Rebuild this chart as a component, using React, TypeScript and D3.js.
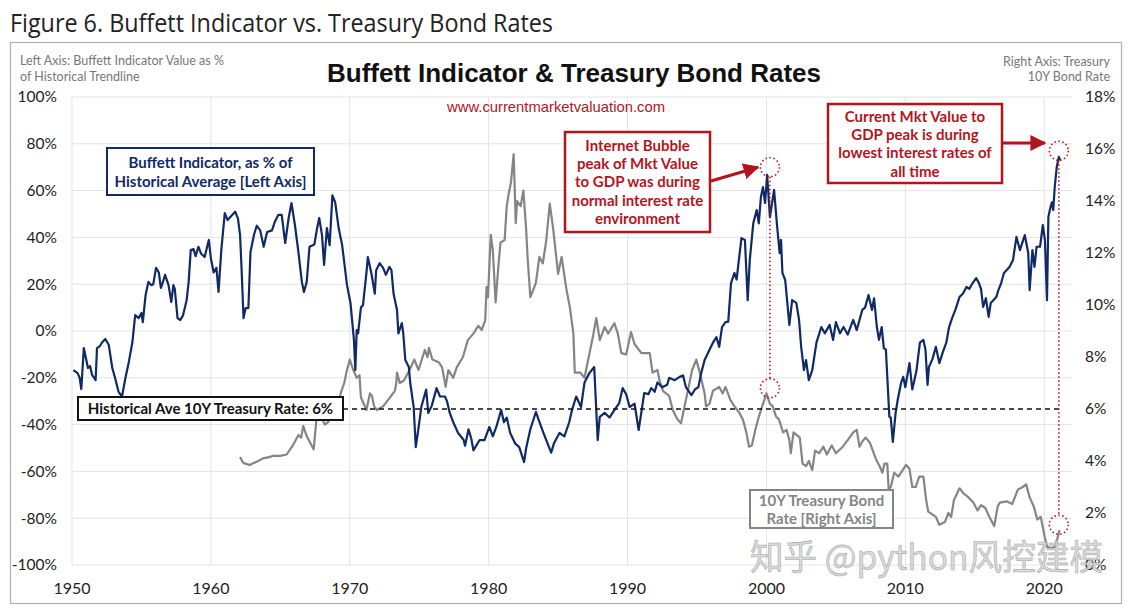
import React from 'react';
import * as d3 from 'd3';

// Buffett Indicator (% of historical trendline): decimal years and values
const buffettYears = [
  1950.1, 1950.4, 1950.55, 1950.67, 1950.85, 1951.0, 1951.15, 1951.3, 1951.45, 1951.7, 1951.8, 1952.0, 1952.15,
  1952.4, 1952.65, 1952.9, 1953.1, 1953.35, 1953.6, 1953.85, 1954.1, 1954.35, 1954.55, 1954.8, 1955.0, 1955.1,
  1955.3, 1955.5, 1955.7, 1955.85, 1956.05, 1956.25, 1956.4, 1956.5, 1956.7, 1956.95, 1957.15, 1957.3, 1957.4,
  1957.6, 1957.8, 1958.0, 1958.25, 1958.4, 1958.55, 1958.75, 1958.9, 1959.1, 1959.3, 1959.55, 1959.85, 1960.0,
  1960.2, 1960.4, 1960.55, 1960.75, 1961.0, 1961.2, 1961.45, 1961.75, 1961.95, 1962.1, 1962.2, 1962.35, 1962.5,
  1962.7, 1962.85, 1963.1, 1963.3, 1963.55, 1963.8, 1964.05, 1964.4, 1964.6, 1964.85, 1965.1, 1965.35, 1965.6,
  1965.8, 1966.05, 1966.3, 1966.55, 1966.7, 1966.9, 1967.1, 1967.45, 1967.65, 1967.8, 1968.0, 1968.15, 1968.35,
  1968.55, 1968.75, 1968.95, 1969.2, 1969.45, 1969.65, 1969.8, 1970.05, 1970.3, 1970.4, 1970.5, 1970.6, 1970.8,
  1970.95, 1971.2, 1971.3, 1971.55, 1971.8, 1971.9, 1972.15, 1972.4, 1972.6, 1972.85, 1973.0, 1973.15, 1973.4,
  1973.5, 1973.75, 1973.85, 1974.0, 1974.25, 1974.35, 1974.6, 1974.75, 1974.9, 1975.15, 1975.5, 1975.65, 1975.9,
  1976.25, 1976.5, 1976.85, 1977.0, 1977.2, 1977.45, 1977.8, 1978.2, 1978.3, 1978.55, 1978.75, 1978.9, 1979.35,
  1979.7, 1980.05, 1980.3, 1980.55, 1980.9, 1981.1, 1981.3, 1981.55, 1981.9, 1982.2, 1982.55, 1982.7, 1983.0,
  1983.4, 1983.6, 1983.95, 1984.5, 1984.7, 1985.1, 1985.45, 1985.8, 1986.0, 1986.3, 1986.65, 1986.9, 1987.25,
  1987.6, 1987.85, 1988.0, 1988.35, 1988.7, 1989.05, 1989.4, 1989.65, 1989.9, 1990.15, 1990.5, 1990.8, 1991.05,
  1991.2, 1991.5, 1991.7, 1991.95, 1992.15, 1992.5, 1992.85, 1993.0, 1993.4, 1993.75, 1994.0, 1994.2, 1994.6,
  1994.85, 1995.1, 1995.3, 1995.55, 1995.9, 1996.15, 1996.4, 1996.6, 1996.8, 1997.05, 1997.25, 1997.45, 1997.7,
  1997.85, 1998.2, 1998.45, 1998.65, 1998.8, 1999.05, 1999.3, 1999.45, 1999.6, 1999.75, 1999.9, 2000.05, 2000.25,
  2000.55, 2000.75, 2000.95, 2001.05, 2001.15, 2001.35, 2001.65, 2001.85, 2002.15, 2002.35, 2002.5, 2002.7, 2002.85,
  2003.05, 2003.3, 2003.6, 2003.95, 2004.2, 2004.55, 2004.8, 2005.0, 2005.3, 2005.55, 2005.85, 2006.05, 2006.25,
  2006.5, 2006.7, 2006.9, 2007.1, 2007.35, 2007.6, 2007.75, 2007.95, 2008.1, 2008.3, 2008.45, 2008.6, 2008.85,
  2008.95, 2009.1, 2009.3, 2009.45, 2009.7, 2009.85, 2010.0, 2010.3, 2010.5, 2010.65, 2010.8, 2011.05, 2011.3,
  2011.45, 2011.6, 2011.7, 2011.95, 2012.2, 2012.45, 2012.7, 2012.95, 2013.15, 2013.4, 2013.6, 2013.9, 2014.15,
  2014.4, 2014.6, 2014.85, 2015.1, 2015.3, 2015.45, 2015.6, 2015.8, 2016.0, 2016.15, 2016.55, 2016.7, 2016.9,
  2017.1, 2017.5, 2017.75, 2018.0, 2018.25, 2018.6, 2018.85, 2018.95, 2019.15, 2019.3, 2019.45, 2019.7, 2019.9,
  2020.05, 2020.2, 2020.3, 2020.45, 2020.55, 2020.65, 2020.75, 2020.9, 2021.05, 2021.15,
];
const buffettValues = [
  -16.7, -18, -20, -24.8, -7.3, -11.5, -15.8, -15, -18.8, -21, -7.3, -6.5, -5,
  -3.4, -6, -15.8, -20, -26, -28, -20, -13, -4.7, 6.8, 5.5, 7.7, 3.8,
  15.4, 21, 19.6, 20, 27, 25, 18.4, 20, 24, 19.6, 12.4, 19.6, 18,
  5.5, 4.7, 6.8, 13, 21, 34.6, 35, 32, 36, 33, 31.6, 38.9, 31,
  25, 27, 16.7, 34.6, 50.4, 47.4, 49, 51, 48, 41, 28, 5.5, 9.8,
  9.8, 33.8, 41, 45, 43, 36, 42.3, 43, 46.6, 49.6, 49.6, 37.6, 48.3,
  54.7, 45.3, 33.8, 21, 16.7, 21, 36, 37, 44, 48.3, 41, 28.2, 44,
  36.7, 58, 55, 44, 36.7, 27, 19.6, 12, -3.8, -16.7, 0.4, -1, 10,
  11, 24.8, 31.6, 24.8, 16, 26, 29, 27, 24, 27.4, 26, 16, 9,
  -1, 3.4, -1, -12.4, -15.4, -22, -32.5, -49.6, -43.6, -32.5, -25, -35, -32,
  -24.4, -28, -28, -30, -35, -39, -43.6, -46.6, -49, -42, -46, -51, -46.6,
  -46.6, -41, -45, -41, -33.8, -39, -37, -43.6, -48, -49.6, -56, -50, -42,
  -34.6, -38, -43.6, -52, -48, -43.6, -45, -39, -33.8, -28, -32.5, -22, -18,
  -15.4, -46.6, -36.7, -35, -37, -33.8, -30.8, -24.4, -27, -32.5, -31, -42.3, -32.5,
  -26.5, -27, -24.4, -26, -22, -24, -23, -20, -21, -19.6, -19, -24, -27.4,
  -25, -24, -18, -12.4, -8, -5, -2.6, -6.8, 1.7, 3.8, 4, 20.5, 24.8,
  22, 39.7, 38.9, 13.2, 30.3, 46, 51.7, 46, 57.2, 61.5, 54.7, 66.7, 48.7,
  60.3, 46, 33.3, 38.9, 24.8, 21.8, 2.6, 13.2, 12, 4.7, -6.8, -16.7, -12.4,
  -21, -16.7, -5, 1.7, -1, 2.6, -3.8, 3.8, -1, 1.7, -1.5, 1.7, 4.7,
  0.4, 4.7, 9, 10, 15.4, 9, 14, 1.7, -3.8, 1.7, -7.3, -8, -36.7,
  -37, -47.4, -35, -29.5, -22, -19.6, -24, -13.7, -25, -21, -17, -5, -3.8,
  -8, -23, -15.4, -12, -6.8, -13.7, -9, -5, 1.7, 6, 9, 14.5, 16,
  18.8, 18, 20.5, 22.6, 20.5, 18, 10.3, 14, 6, 12, 14.5, 17.5, 20.5,
  24.8, 27.4, 30.3, 40.2, 34.6, 41, 33.3, 17.5, 34.6, 27.4, 36, 36, 45.3,
  38.9, 13.2, 48.7, 53, 55, 51.7, 61, 70, 74.4, 73,
];

// 10Y Treasury rate (%): decimal years and values
const bondYears = [
  1962.1, 1962.3, 1962.45, 1962.8, 1963.0, 1963.4, 1963.75, 1964.2, 1964.5, 1965.0, 1965.45, 1965.9, 1966.1,
  1966.3, 1966.5, 1966.65, 1966.9, 1967.25, 1967.4, 1967.6, 1967.95, 1968.2, 1968.45, 1968.7, 1969.0, 1969.2,
  1969.4, 1969.6, 1969.8, 1970.0, 1970.25, 1970.5, 1970.7, 1970.8, 1971.2, 1971.45, 1971.6, 1971.75, 1971.95,
  1972.4, 1972.9, 1973.25, 1973.35, 1973.4, 1973.6, 1973.9, 1974.3, 1974.65, 1974.95, 1975.4, 1975.6, 1975.7,
  1975.95, 1976.4, 1976.65, 1976.9, 1977.1, 1977.45, 1977.7, 1978.15, 1978.5, 1978.9, 1979.25, 1979.5, 1979.75,
  1979.85, 1979.95, 1980.15, 1980.3, 1980.5, 1980.7, 1980.85, 1981.15, 1981.3, 1981.45, 1981.6, 1981.8, 1981.95,
  1982.05, 1982.3, 1982.5, 1982.7, 1982.8, 1983.0, 1983.15, 1983.4, 1983.65, 1983.9, 1984.15, 1984.4, 1984.65,
  1985.0, 1985.25, 1985.6, 1985.85, 1986.1, 1986.2, 1986.6, 1986.9, 1987.5, 1987.75, 1988.0, 1988.35, 1988.6,
  1989.05, 1989.3, 1989.55, 1989.9, 1990.25, 1990.5, 1991.0, 1991.6, 1991.8, 1992.15, 1992.3, 1992.55, 1993.0,
  1993.25, 1993.6, 1993.85, 1994.05, 1994.3, 1994.65, 1994.95, 1995.2, 1995.55, 1995.65, 1995.9, 1996.15, 1996.6,
  1996.85, 1997.05, 1997.4, 1997.7, 1998.05, 1998.3, 1998.55, 1998.75, 1998.95, 1999.2, 1999.45, 1999.75, 2000.0,
  2000.25, 2000.45, 2000.7, 2000.9, 2001.2, 2001.45, 2001.65, 2001.75, 2001.95, 2002.4, 2002.6, 2002.85, 2003.05,
  2003.3, 2003.5, 2003.8, 2004.1, 2004.35, 2004.7, 2005.0, 2005.5, 2005.85, 2006.25, 2006.5, 2006.7, 2006.9,
  2007.15, 2007.45, 2007.9, 2008.15, 2008.35, 2008.5, 2008.7, 2008.8, 2008.95, 2009.2, 2009.5, 2009.75, 2010.05,
  2010.3, 2010.5, 2010.75, 2011.0, 2011.3, 2011.5, 2011.65, 2012.2, 2012.45, 2012.85, 2013.1, 2013.3, 2013.5,
  2013.9, 2014.2, 2014.55, 2014.9, 2015.2, 2015.45, 2015.75, 2016.05, 2016.4, 2016.65, 2016.8, 2017.3, 2017.7,
  2018.1, 2018.45, 2018.7, 2018.95, 2019.25, 2019.5, 2019.75, 2020.05, 2020.2, 2020.5, 2020.8, 2021.1,
];
const bondValues = [
  4.15, 3.95, 3.9, 3.85, 3.9, 4.0, 4.1, 4.15, 4.2, 4.2, 4.25, 4.6, 4.8,
  5.0, 4.9, 5.35, 4.96, 4.6, 4.45, 5.6, 5.7, 5.4, 5.5, 5.9, 5.7, 6.3,
  6.7, 7.0, 7.5, 7.9, 7.5, 7.2, 7.3, 6.45, 5.96, 6.6, 6.5, 6.1, 5.96,
  6.1, 6.45, 6.7, 7.0, 7.4, 7.0, 7.1, 7.5, 7.9, 7.5, 8.27, 8.0, 8.35,
  7.9, 7.8, 7.6, 6.85, 7.5, 7.2, 7.6, 8.0, 8.65, 8.9, 9.2, 9.04, 9.4,
  10.7, 10.3, 12.7, 12.1, 10.1, 11.5, 12.4, 12.5, 13.8, 14.3, 14.7, 15.8, 13.15,
  14.0, 13.8, 14.4, 12.9, 11.85, 10.3, 10.5, 10.85, 11.85, 11.6, 12.5, 13.9, 12.9,
  11.2, 11.85, 10.6, 9.9, 8.9, 7.4, 7.4, 7.2, 8.77, 9.5, 8.65, 9.15, 8.9,
  9.3, 8.9, 8.15, 8.1, 8.96, 8.5, 8.15, 8.15, 7.4, 7.5, 7.1, 6.7, 6.5,
  5.96, 5.6, 5.45, 5.96, 6.6, 7.5, 7.9, 7.4, 6.6, 6.1, 6.2, 6.7, 6.85,
  6.6, 6.85, 6.35, 6.1, 5.85, 5.6, 5.1, 4.55, 4.6, 5.2, 5.7, 6.2, 6.6,
  6.2, 6.1, 5.7, 5.6, 5.1, 5.2, 4.8, 4.3, 5.1, 4.9, 3.9, 3.8, 4.0,
  3.65, 4.4, 4.3, 4.55, 4.25, 4.6, 4.3, 4.55, 4.8, 5.1, 5.2, 4.55, 4.75,
  4.9, 4.7, 4.05, 3.8, 3.55, 3.9, 3.9, 2.9, 3.0, 3.55, 3.4, 3.6, 3.85,
  3.7, 3.0, 3.0, 3.4, 3.4, 2.5, 2.05, 1.85, 1.55, 1.65, 2.0, 1.85, 2.5,
  2.95, 2.75, 2.6, 2.4, 2.1, 2.3, 2.2, 1.85, 1.5, 2.25, 2.4, 2.45, 2.35,
  2.9, 3.0, 3.1, 2.6, 2.25, 1.75, 1.85, 1.05, 0.7, 0.65, 0.7, 1.35,
];

const xTicks = [1950, 1960, 1970, 1980, 1990, 2000, 2010, 2020];
const leftTicks = [-100, -80, -60, -40, -20, 0, 20, 40, 60, 80, 100];
const rightTicks = [0, 2, 4, 6, 8, 10, 12, 14, 16, 18];
const historicalAvgRate = 6;
const bubblePeak = { year: 2000.25, left: 70, right: 6.8 };
const currentPeak = { year: 2021.05, left: 77, right: 1.55 };

const RED = '#b5141c';
const NAVY = '#0f2a66';
const GRAY = '#858585';
const FONT = 'Lato, "Liberation Sans", Arial, sans-serif';

export default function App() {
  const W = 1131, H = 610;
  const x = d3.scaleLinear().domain([1950, 2022]).range([72, 1072]);
  const yL = d3.scaleLinear().domain([-100, 100]).range([565, 97]);
  const yR = d3.scaleLinear().domain([0, 18]).range([565, 97]);

  const buffett = d3.zip(buffettYears, buffettValues) as [number, number][];
  const bond = d3.zip(bondYears, bondValues) as [number, number][];
  const lineL = d3.line<[number, number]>().x(d => x(d[0])).y(d => yL(d[1]));
  const lineR = d3.line<[number, number]>().x(d => x(d[0])).y(d => yR(d[1]));

  const boxText = (lines: string[], cx: number, y0: number, dy: number, color: string, size: number) =>
    lines.map((t, i) => (
      <text key={i} x={cx} y={y0 + i * dy} textAnchor="middle" fill={color} fontSize={size} fontWeight={700} fontFamily={FONT}>{t}</text>
    ));

  const bx1 = x(bubblePeak.year), by1 = yL(bubblePeak.left), by2 = yR(bubblePeak.right);
  const cx2 = x(currentPeak.year), cy1 = yL(currentPeak.left), cy2 = yR(currentPeak.right);
  const r = 9.5;

  return (
    <svg width={W} height={H} style={{ position: 'absolute', left: 0, top: 0, background: '#fff' }}>
      <defs>
        <marker id="arrow" viewBox="0 0 10 10" refX="9" refY="5" markerWidth="5" markerHeight="5" orient="auto" markerUnits="strokeWidth">
          <path d="M0,0 L10,5 L0,10 z" fill={RED} />
        </marker>
      </defs>
      <rect x={0} y={0} width={W} height={H} fill="#fff" />
      <text x={10} y={32} fontSize={25} fill="#222" fontFamily='"Open Sans", "Noto Sans", sans-serif' textLength={543} lengthAdjust="spacingAndGlyphs">Figure 6. Buffett Indicator vs. Treasury Bond Rates</text>
      <rect x={10.5} y={42.5} width={1111} height={561} fill="none" stroke="#b0b0b0" strokeWidth={1.2} />

      <text x={327} y={82} fontSize={25} fontWeight={700} fill="#111" fontFamily='"Liberation Sans", Arial, sans-serif' textLength={494} lengthAdjust="spacingAndGlyphs">Buffett Indicator &amp; Treasury Bond Rates</text>
      <text x={20} y={65} fontSize={12.5} fill="#777" fontFamily={FONT}>Left Axis: Buffett Indicator Value as %</text>
      <text x={20} y={81} fontSize={12.5} fill="#777" fontFamily={FONT}>of Historical Trendline</text>
      <text x={1110} y={66} fontSize={12.5} fill="#777" fontFamily={FONT} textAnchor="end">Right Axis: Treasury</text>
      <text x={1110} y={81} fontSize={12.5} fill="#777" fontFamily={FONT} textAnchor="end">10Y Bond Rate</text>

      {/* grid */}
      {leftTicks.map(t => (
        <line key={'h' + t} x1={x(1950)} x2={x(2022)} y1={yL(t)} y2={yL(t)} stroke="#e3e3e3" strokeWidth={1} />
      ))}
      {xTicks.map(t => (
        <line key={'v' + t} x1={x(t)} x2={x(t)} y1={yL(100)} y2={yL(-100)} stroke="#e3e3e3" strokeWidth={1} />
      ))}

      {/* axes labels */}
      {leftTicks.map(t => (
        <text key={'l' + t} x={57} y={yL(t)} dy="0.35em" textAnchor="end" fontSize={15.5} fill="#222" fontFamily={FONT}>{t}%</text>
      ))}
      {rightTicks.map(t => (
        <text key={'r' + t} x={1085} y={yR(t)} dy="0.35em" textAnchor="start" fontSize={15.5} fill="#222" fontFamily={FONT}>{t}%</text>
      ))}
      {xTicks.map(t => (
        <text key={'x' + t} x={x(t)} y={594} textAnchor="middle" fontSize={16} fill="#222" fontFamily={FONT}>{t}</text>
      ))}

      <text x={556} y={112} textAnchor="middle" fontSize={14.8} fill={RED} fontFamily='"Liberation Sans", Arial, sans-serif'>www.currentmarketvaluation.com</text>

      {/* series */}
      <path d={lineR(bond) || ''} fill="none" stroke={GRAY} strokeWidth={2.2} strokeLinejoin="round" />
      <path d={lineL(buffett) || ''} fill="none" stroke={NAVY} strokeWidth={2.2} strokeLinejoin="round" />

      {/* historical average line */}
      <line x1={343} x2={cx2} y1={yR(historicalAvgRate)} y2={yR(historicalAvgRate)} stroke="#111" strokeWidth={1.3} strokeDasharray="5,4" />
      <rect x={78} y={397} width={265} height={23} fill="#fff" stroke="#111" strokeWidth={2} />
      <text x={210.5} y={414} textAnchor="middle" fontSize={15} fontWeight={700} fill="#111" fontFamily={FONT}>Historical Ave 10Y Treasury Rate: 6%</text>

      {/* buffett label */}
      <rect x={107} y={148} width={207} height={47} fill="#fff" stroke={NAVY} strokeWidth={2} />
      {boxText(['Buffett Indicator, as % of', 'Historical Average [Left Axis]'], 210.5, 168, 19, NAVY, 15)}

      {/* bond label */}
      <rect x={750} y={490} width={143} height={38} fill="#fff" stroke={GRAY} strokeWidth={2} />
      {boxText(['10Y Treasury Bond', 'Rate [Right Axis]'], 821.5, 506, 17.5, GRAY, 15)}

      {/* internet bubble annotation */}
      <line x1={bx1} x2={bx1} y1={by1 + r} y2={by2 - r} stroke={RED} strokeWidth={1.6} strokeDasharray="1.5,2.5" />
      <circle cx={bx1} cy={by1} r={r} fill="none" stroke={RED} strokeWidth={1.6} strokeDasharray="1.5,2.5" />
      <circle cx={bx1} cy={by2} r={r} fill="none" stroke={RED} strokeWidth={1.6} strokeDasharray="1.5,2.5" />
      <rect x={565} y={132} width={145} height={100} fill="#fff" stroke={RED} strokeWidth={2.5} />
      {boxText(['Internet Bubble', 'peak of Mkt Value', 'to GDP was during', 'normal interest rate', 'environment'], 637.5, 151, 18.2, RED, 15)}
      <line x1={711} y1={181} x2={bx1 - 12} y2={by1} stroke={RED} strokeWidth={3.2} markerEnd="url(#arrow)" />

      {/* current annotation */}
      <line x1={cx2} x2={cx2} y1={cy1 + r} y2={cy2 - r} stroke={RED} strokeWidth={1.6} strokeDasharray="1.5,2.5" />
      <circle cx={cx2} cy={cy1} r={r} fill="none" stroke={RED} strokeWidth={1.6} strokeDasharray="1.5,2.5" />
      <circle cx={cx2} cy={cy2} r={r} fill="none" stroke={RED} strokeWidth={1.6} strokeDasharray="1.5,2.5" />
      <rect x={828} y={104} width={174} height={79} fill="#fff" stroke={RED} strokeWidth={2.5} />
      {boxText(['Current Mkt Value to', 'GDP peak is during', 'lowest interest rates of', 'all time'], 915, 122, 18.2, RED, 15)}
      <line x1={1003} y1={143} x2={cx2 - 14} y2={143} stroke={RED} strokeWidth={3.2} markerEnd="url(#arrow)" />

      {/* watermark */}
      <text x={750} y={570} fontSize={35} fill="#d2d2d2" fillOpacity={0.85} stroke="#8c8c8c" strokeWidth={0.6} strokeOpacity={0.7} fontFamily='"Noto Sans CJK SC", "Noto Sans", sans-serif' textLength={353} lengthAdjust="spacingAndGlyphs">知乎 @python风控建模</text>
    </svg>
  );
}
